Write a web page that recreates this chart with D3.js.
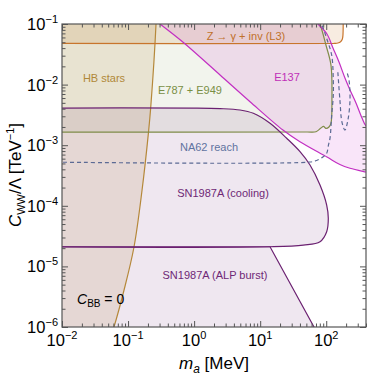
<!DOCTYPE html>
<html>
<head>
<meta charset="utf-8">
<script src="https://cdn.jsdelivr.net/npm/d3@7"></script>
<style>
  body { margin: 0; background: #fff; }
  text { font-family: "Liberation Sans", Arial, sans-serif; }
</style>
</head>
<body>
<div class="canvas"></div>
<script>
// axis ticks
const xMajor = [0.01, 0.1, 1, 10, 100];
const xMajorExp = ['−2', '−1', '0', '1', '2'];
const yMajor = [1e-6, 1e-5, 1e-4, 1e-3, 1e-2, 1e-1];
const yMajorExp = ['−6', '−5', '−4', '−3', '−2', '−1'];

// boundaries, [m_a in MeV, C_WW/Lambda in TeV^-1]
const hbEdge = [[0.27,0.2],[0.265,0.1],[0.22,4.1e-3],[0.204,1.64e-3],[0.163,1.82e-4],[0.123,2.09e-5],[0.087,4.08e-6],[0.0612,1e-6],[0.0496,5e-7]];
const l3Edge = [[0.005,0.048],[130,0.048],[150,0.0485],[165,0.051],[175,0.056],[179,0.065],[180,0.2]];
const e787Edge = [[0.005,1.65e-3],[50,1.65e-3],[70,1.67e-3],[83,1.92e-3],[91,2.04e-3],[99,1.89e-3],[110,2.0e-3],[118,2.32e-3],[122,5.6e-3],[118,0.021],[99,0.045],[80.5,0.1],[70,0.14]];
const e137Low = [[0.164,0.17],[0.305,0.1],[0.703,0.0486],[2.47,0.0144],[7.02,5.22e-3],[22.1,1.78e-3],[40,1.14e-3],[102.6,6.38e-4],[161,4.8e-4],[229,4.16e-4],[400,3.61e-4],[600,3.3e-4]];
const e137High = [[600,1.6e-3],[400,2.08e-3],[348,2.81e-3],[282,4.97e-3],[229,8.15e-3],[192,0.01285],[156,0.0236],[126.5,0.0402],[102.6,0.0684],[75,0.1],[61,0.126]];
const na62Main = [[0.005,5.28e-4],[56.8,5.28e-4],[71.6,5.6e-4],[90,6.45e-4],[101.6,7.35e-4],[108,1.0e-3],[114,1.3e-3],[121,3.15e-3],[128,6.73e-3],[128,0.0112],[121,0.0305],[101.6,0.0577],[90,0.085],[84,0.1],[78,0.115]];
const na62Loop = [[150,0.016],[161,5.6e-3],[173,2.41e-3],[192,1.78e-3],[213,2.61e-3],[229,5.6e-3],[221,0.0119],[206,0.016]];
const coolEdge = [[0.005,4.1e-3],[1,4.1e-3],[2.47,4.02e-3],[4.95,3.81e-3],[7.88,3.36e-3],[14.1,2.30e-3],[25.2,1.30e-3],[40.1,7.82e-4],[56.8,4.71e-4],[80.5,2.20e-4],[101.6,1.03e-4],[107.5,6.22e-5],[101.6,3.74e-5],[80.5,2.56e-5],[45,2.25e-5],[14.1,2.11e-5],[0.005,2.11e-5]];
const burstEdge = [[0.005,2.11e-5],[14.1,2.11e-5],[65.3,1e-6],[100,4.3e-7]];

const svg = d3.select('.canvas')
  .append('svg')
    .attr('width', 368)
    .attr('height', 378);

const x = d3.scaleLog().domain([0.01, 400]).range([62, 366]);
const y = d3.scaleLog().domain([1e-6, 0.1]).range([327, 24]);

const smooth = d3.line().x(d => x(d[0])).y(d => y(d[1])).curve(d3.curveCatmullRom.alpha(0.5));
const straight = d3.line().x(d => x(d[0])).y(d => y(d[1]));
const pt = (m, c) => `L${x(m)},${y(c)}`;
const join = s => s.replace(/^M/, 'L');

svg.append('clipPath').attr('id', 'plot')
  .append('rect').attr('x', 62).attr('y', 24).attr('width', 304).attr('height', 303);

const graph = svg.append('g').attr('clip-path', 'url(#plot)');

// fills
const fills = [
  { d: smooth(hbEdge) + pt(0.001, 5e-7) + pt(0.001, 1) + pt(0.27, 1) + 'Z', c: 'rgba(184,134,47,0.15)' },
  { d: smooth(l3Edge) + pt(0.005, 0.2) + 'Z', c: 'rgba(205,120,40,0.14)' },
  { d: smooth(e787Edge) + pt(0.005, 0.14) + 'Z', c: 'rgba(130,145,80,0.1)' },
  { d: smooth(e137Low) + join(smooth(e137High)) + 'Z', c: 'rgba(210,70,210,0.14)' },
  { d: smooth(coolEdge) + 'Z', c: 'rgba(110,40,115,0.11)' },
  { d: straight(burstEdge) + pt(0.005, 4.3e-7) + 'Z', c: 'rgba(110,40,115,0.11)' }
];
graph.selectAll('path.fill')
  .data(fills)
  .enter()
  .append('path')
    .attr('class', 'fill')
    .attr('d', d => d.d)
    .attr('fill', d => d.c)
    .attr('stroke', 'none');

// boundary lines
const lines = [
  { d: smooth(hbEdge), c: '#b5883a' },
  { d: smooth(l3Edge), c: '#c8752c' },
  { d: smooth(e787Edge), c: '#7f8c48' },
  { d: smooth(e137Low), c: '#c22fc2' },
  { d: smooth(e137High), c: '#c22fc2' },
  { d: smooth(coolEdge), c: '#6b2171' },
  { d: straight(burstEdge), c: '#6b2171' },
  { d: smooth(na62Main), c: '#5b6a94', dash: '4,3' },
  { d: smooth(na62Loop), c: '#5b6a94', dash: '4,3' }
];
graph.selectAll('path.edge')
  .data(lines)
  .enter()
  .append('path')
    .attr('class', 'edge')
    .attr('d', d => d.d)
    .attr('fill', 'none')
    .attr('stroke', d => d.c)
    .attr('stroke-width', 1.2)
    .attr('stroke-dasharray', d => d.dash || null);

// ticks
const minor = (lo, hi) => {
  const out = [];
  for (let e = -7; e <= 3; e++) for (let k = 2; k <= 9; k++) {
    const v = k * Math.pow(10, e);
    if (v > lo && v < hi) out.push(v);
  }
  return out;
};
const xMinor = minor(0.01, 401);
const yMinor = minor(1e-6, 0.1);

const addAxis = (axis, tr) => {
  const g = svg.append('g').attr('transform', tr).call(axis);
  g.select('.domain').remove();
  g.selectAll('line').attr('stroke', '#555');
};
[[xMajor, 6], [xMinor, 3.5]].forEach(([v, s]) => {
  addAxis(d3.axisBottom(x).tickValues(v).tickSize(-s).tickFormat(''), 'translate(0,327)');
  addAxis(d3.axisTop(x).tickValues(v).tickSize(-s).tickFormat(''), 'translate(0,24)');
});
[[yMajor, 6], [yMinor, 3.5]].forEach(([v, s]) => {
  addAxis(d3.axisLeft(y).tickValues(v).tickSize(-s).tickFormat(''), 'translate(62,0)');
  addAxis(d3.axisRight(y).tickValues(v).tickSize(-s).tickFormat(''), 'translate(366,0)');
});

svg.append('rect')
  .attr('x', 62).attr('y', 24).attr('width', 304).attr('height', 303)
  .attr('fill', 'none').attr('stroke', '#555').attr('stroke-width', 1.2);

// tick labels
const xl = svg.selectAll('text.xl')
  .data(xMajor)
  .enter()
  .append('text')
    .attr('class', 'xl')
    .attr('x', d => x(d))
    .attr('y', 346)
    .attr('text-anchor', 'middle')
    .attr('font-size', 16.5);
xl.append('tspan').text('10');
xl.append('tspan').attr('dy', -7).attr('font-size', 11).text((d, i) => xMajorExp[i]);

const yl = svg.selectAll('text.yl')
  .data(yMajor)
  .enter()
  .append('text')
    .attr('class', 'yl')
    .attr('x', 58)
    .attr('y', d => y(d) + 6)
    .attr('text-anchor', 'end')
    .attr('font-size', 16.5);
yl.append('tspan').text('10');
yl.append('tspan').attr('dy', -7).attr('font-size', 11).text((d, i) => yMajorExp[i]);

// axis titles
const xt = svg.append('text').attr('x', 214).attr('y', 369).attr('text-anchor', 'middle').attr('font-size', 17);
xt.append('tspan').attr('font-style', 'italic').text('m');
xt.append('tspan').attr('font-style', 'italic').attr('font-size', 12).attr('dy', 4).text('a');
xt.append('tspan').attr('dy', -4).text(' [MeV]');

const yt = svg.append('text').attr('transform', 'translate(21,175) rotate(-90)').attr('text-anchor', 'middle').attr('font-size', 17);
yt.append('tspan').attr('font-style', 'italic').text('C');
yt.append('tspan').attr('font-size', 11).attr('dy', 4).text('WW');
yt.append('tspan').attr('dy', -4).text('/Λ [TeV');
yt.append('tspan').attr('font-size', 11).attr('dy', -7).text('−1');
yt.append('tspan').attr('dy', 7).text(']');

// region labels
const labels = [
  { t: 'Z → γ + inv (L3)', x: 246, y: 40, c: '#c0702a' },
  { t: 'HB stars', x: 104, y: 82, c: '#b08838' },
  { t: 'E787 + E949', x: 190, y: 94, c: '#7a8f45' },
  { t: 'E137', x: 287, y: 81, c: '#c02fb8' },
  { t: 'NA62 reach', x: 209, y: 151, c: '#5f73a0' },
  { t: 'SN1987A (cooling)', x: 223, y: 197, c: '#6e2876' },
  { t: 'SN1987A (ALP burst)', x: 215, y: 279, c: '#6e2876' }
];
svg.selectAll('text.lab')
  .data(labels)
  .enter()
  .append('text')
    .attr('class', 'lab')
    .attr('x', d => d.x)
    .attr('y', d => d.y)
    .attr('text-anchor', 'middle')
    .attr('font-size', 11)
    .attr('fill', d => d.c)
    .text(d => d.t);

const cbb = svg.append('text').attr('x', 77).attr('y', 304).attr('font-size', 14);
cbb.append('tspan').attr('font-style', 'italic').text('C');
cbb.append('tspan').attr('font-size', 10).attr('dy', 3).text('BB');
cbb.append('tspan').attr('dy', -3).text(' = 0');
</script>
</body>
</html>
